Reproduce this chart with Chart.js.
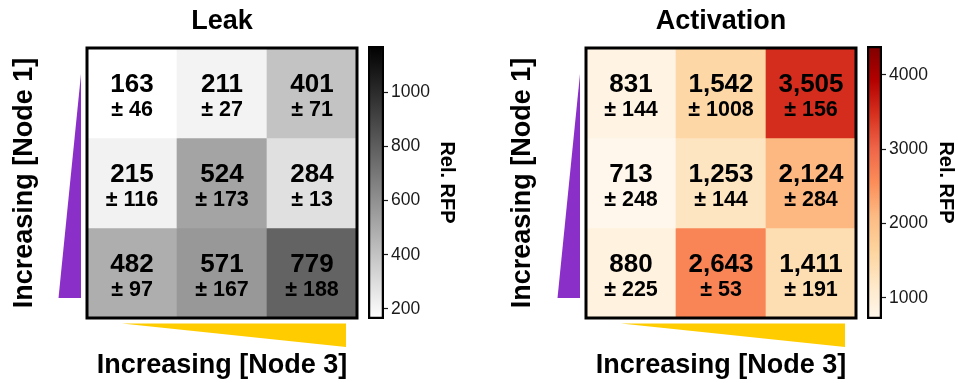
<!DOCTYPE html>
<html>
<head>
<meta charset="utf-8">
<script src="https://cdn.jsdelivr.net/npm/chart.js@4.4.1/dist/chart.umd.min.js"></script>
<style>
  html, body { margin: 0; padding: 0; background: #fff; }
  #wrap { position: relative; width: 958px; height: 383px; overflow: hidden; }
  canvas { position: absolute; top: 0; }
</style>
</head>
<body>
<div id="wrap">
  <canvas id="leakMap" width="360" height="383" style="left:0px"></canvas>
  <canvas id="leakBar" width="120" height="383" style="left:360px"></canvas>
  <canvas id="actMap" width="380" height="383" style="left:480px"></canvas>
  <canvas id="actBar" width="98" height="383" style="left:860px"></canvas>
</div>
<script>
// Node 3 levels run left to right, Node 1 levels run top to bottom.
const node3Levels = ['Node 3 low', 'Node 3 mid', 'Node 3 high'];
const node1Levels = ['Node 1 low', 'Node 1 mid', 'Node 1 high'];

// Leak: mean relative RFP and standard deviation, one array per Node 1 row
const leakMean = [[163, 211, 401], [215, 524, 284], [482, 571, 779]];
const leakSD   = [[46, 27, 71], [116, 173, 13], [97, 167, 188]];

// Activation: mean relative RFP and standard deviation
const actMean = [[831, 1542, 3505], [713, 1253, 2124], [880, 2643, 1411]];
const actSD   = [[144, 1008, 156], [248, 144, 284], [225, 53, 191]];

// Colour bar limits and tick labels
const leakRange = [163, 1170];
const actRange  = [713, 4390];
const leakTicks = [200, 400, 600, 800, 1000];
const actTicks  = [1000, 2000, 3000, 4000];

const FONT = "'Liberation Sans', Arial, sans-serif";
const GRAY_R = ['#ffffff', '#000000'];
const ORRD = ['#fff7ec', '#fee8c8', '#fdd49e', '#fdbb84', '#fc8d59', '#ef6548', '#d7301f', '#b30000', '#7f0000'];

function hexToRgb(h) {
  const n = parseInt(h.slice(1), 16);
  return [(n >> 16) & 255, (n >> 8) & 255, n & 255];
}
function colorAt(stops, t) {
  t = Math.max(0, Math.min(1, t));
  const n = stops.length - 1;
  const p = t * n;
  const i = Math.min(Math.floor(p), n - 1);
  const f = p - i;
  const a = hexToRgb(stops[i]), b = hexToRgb(stops[i + 1]);
  const c = a.map((v, k) => Math.round(v + (b[k] - v) * f));
  return `rgb(${c[0]},${c[1]},${c[2]})`;
}

// Frame, cell annotations and the two wedge markers beside the axes
const heatDecor = {
  id: 'heatDecor',
  afterDatasetsDraw(chart, args, opts) {
    const { ctx, chartArea: ca } = chart;
    ctx.save();
    chart.data.datasets.forEach((ds, r) => {
      chart.getDatasetMeta(r).data.forEach((el, c) => {
        const { x, y } = el.getCenterPoint();
        ctx.fillStyle = '#000';
        ctx.textAlign = 'center';
        ctx.textBaseline = 'middle';
        ctx.font = `bold 26px ${FONT}`;
        ctx.fillText(opts.mean[r][c].toLocaleString('en-US'), x, y - 8.5);
        ctx.font = `bold 21.5px ${FONT}`;
        ctx.fillText('\u00b1 ' + opts.sd[r][c], x, y + 17);
      });
    });
    ctx.lineWidth = 3;
    ctx.strokeStyle = '#000';
    ctx.strokeRect(ca.left, ca.top, ca.right - ca.left, ca.bottom - ca.top);

    // Node 1 wedge (left)
    ctx.fillStyle = '#8b2fc9';
    ctx.beginPath();
    ctx.moveTo(ca.left - 28.5, ca.bottom - 20);
    ctx.lineTo(ca.left - 6, ca.bottom - 20);
    ctx.lineTo(ca.left - 6, ca.top + 26);
    ctx.closePath();
    ctx.fill();

    // Node 3 wedge (below)
    ctx.fillStyle = '#ffcc00';
    ctx.beginPath();
    ctx.moveTo(ca.left + 35, ca.bottom + 5.5);
    ctx.lineTo(ca.right - 11, ca.bottom + 5.5);
    ctx.lineTo(ca.right - 11, ca.bottom + 29);
    ctx.closePath();
    ctx.fill();
    ctx.restore();
  }
};

function heatmap(id, title, mean, sd, range, cmap, L) {
  const datasets = mean.map((row, r) => ({
    label: node1Levels[r],
    data: row.map(() => [r, r + 1]),
    backgroundColor: row.map(v => colorAt(cmap, (v - range[0]) / (range[1] - range[0]))),
    borderWidth: 0,
    barPercentage: 1,
    categoryPercentage: 1,
    grouped: false
  }));
  return new Chart(document.getElementById(id), {
    type: 'bar',
    data: { labels: node3Levels, datasets },
    plugins: [heatDecor],
    options: {
      responsive: false,
      animation: false,
      events: [],
      layout: { padding: { left: 0, right: L.padRight, top: 0, bottom: 0 } },
      plugins: {
        legend: { display: false },
        tooltip: { enabled: false },
        title: {
          display: true, text: title, fullSize: false, color: '#000',
          font: { family: FONT, size: 27, weight: 'bold', lineHeight: 1.2 },
          padding: { top: 5.3, bottom: 10.3 }
        },
        heatDecor: { mean, sd }
      },
      scales: {
        x: {
          type: 'category', offset: true,
          grid: { display: false }, border: { display: false }, ticks: { display: false },
          title: {
            display: true, text: 'Increasing [Node 3]', color: '#000',
            font: { family: FONT, size: 27, weight: 'bold', lineHeight: 1.2 },
            padding: { top: 0, bottom: 0.8 }
          },
          afterFit: s => { s.height = 65; }
        },
        y: {
          type: 'linear', min: 0, max: 3, reverse: true, stacked: false,
          grid: { display: false }, border: { display: false }, ticks: { display: false },
          title: {
            display: true, text: 'Increasing [Node 1]', color: '#000',
            font: { family: FONT, size: 27, weight: 'bold', lineHeight: 1.2 },
            padding: { top: L.yTitlePad, bottom: 0 }
          },
          afterFit: s => { s.width = L.yWidth; }
        }
      }
    }
  });
}

function colorbar(id, range, ticks, cmap, L) {
  return new Chart(document.getElementById(id), {
    type: 'bar',
    data: {
      labels: ['Rel. RFP'],
      datasets: [{
        data: [range],
        backgroundColor: c => {
          const ca = c.chart.chartArea;
          if (!ca) return '#fff';
          const g = c.chart.ctx.createLinearGradient(0, ca.bottom, 0, ca.top);
          cmap.forEach((col, i) => g.addColorStop(i / (cmap.length - 1), col));
          return g;
        },
        borderColor: '#000',
        borderWidth: 2.6,
        borderSkipped: false,
        barPercentage: 1,
        categoryPercentage: 1
      }]
    },
    options: {
      responsive: false,
      animation: false,
      events: [],
      layout: { padding: { left: L.padLeft, right: L.padRight, top: 46, bottom: 64 } },
      plugins: { legend: { display: false }, tooltip: { enabled: false } },
      scales: {
        x: { display: false },
        y: {
          position: 'right', min: range[0], max: range[1],
          afterBuildTicks: s => { s.ticks = ticks.map(v => ({ value: v })); },
          ticks: {
            color: '#1a1a1a', font: { family: FONT, size: 17.5 }, padding: 3,
            callback: v => String(v)
          },
          grid: { drawOnChartArea: false, drawTicks: true, tickLength: 4, color: '#1a1a1a', tickWidth: 1.2 },
          border: { display: false },
          title: {
            display: true, text: 'Rel. RFP', color: '#000',
            font: { family: FONT, size: 20, weight: 'bold', lineHeight: 1.2 },
            padding: { top: 0.5, bottom: 0 }
          },
          afterFit: s => { s.width = L.width; }
        }
      }
    }
  });
}

heatmap('leakMap', 'Leak', leakMean, leakSD, leakRange, GRAY_R, { padRight: 3, yWidth: 87, yTitlePad: 8.3 });
colorbar('leakBar', leakRange, leakTicks, GRAY_R, { padLeft: 8, padRight: 21, width: 75 });
heatmap('actMap', 'Activation', actMean, actSD, actRange, ORRD, { padRight: 4, yWidth: 106, yTitlePad: 26.8 });
colorbar('actBar', actRange, actTicks, ORRD, { padLeft: 7, padRight: 0, width: 76 });
</script>
</body>
</html>
